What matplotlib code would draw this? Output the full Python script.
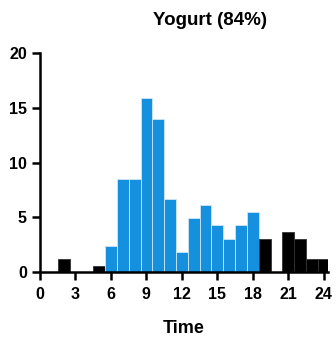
import matplotlib.pyplot as plt
import numpy as np

plt.rcParams['font.family'] = ['Liberation Sans', 'DejaVu Sans']
plt.rcParams['font.weight'] = 'bold'

# share of meals per hour of day (%)
hours = np.arange(0, 25)
share = [0, 0, 1.2, 0, 0, 0.6, 2.4, 8.5, 8.5, 15.9, 14.0, 6.7, 1.8, 4.9, 6.1,
         4.3, 3.0, 4.3, 5.5, 3.0, 0, 3.7, 3.0, 1.2, 1.2]
day_start, day_end = 6, 18  # daytime hours drawn in blue

colors = ['#1590de' if day_start <= h <= day_end else 'black' for h in hours]
edges = ['#cfe6f7' if day_start <= h <= day_end else '#333333' for h in hours]

fig = plt.figure(figsize=(3.36, 3.38), dpi=100)
ax = fig.add_axes([0.119, 0.195, 0.857, 0.648])

ax.bar(hours, share, width=1.0, color=colors, edgecolor=edges, linewidth=0.6)

ax.set_xlim(0, 24.35)
ax.set_ylim(0, 20)
ax.set_xticks(range(0, 25, 3))
ax.set_yticks(range(0, 21, 5))
ax.spines['top'].set_visible(False)
ax.spines['right'].set_visible(False)
for s in ['left', 'bottom']:
    ax.spines[s].set_linewidth(1.8)
ax.tick_params(width=1.8, length=6, labelsize=11.5)
ax.tick_params(axis='x', pad=5)
for lab in ax.get_xticklabels() + ax.get_yticklabels():
    lab.set_fontweight('bold')

ax.set_xlabel('Time', fontsize=13, fontweight='bold', labelpad=13)
fig.text(0.625, 0.94, 'Yogurt (84%)', fontsize=13.5, fontweight='bold',
         ha='center', va='center')

plt.savefig('out.png', dpi=100)
